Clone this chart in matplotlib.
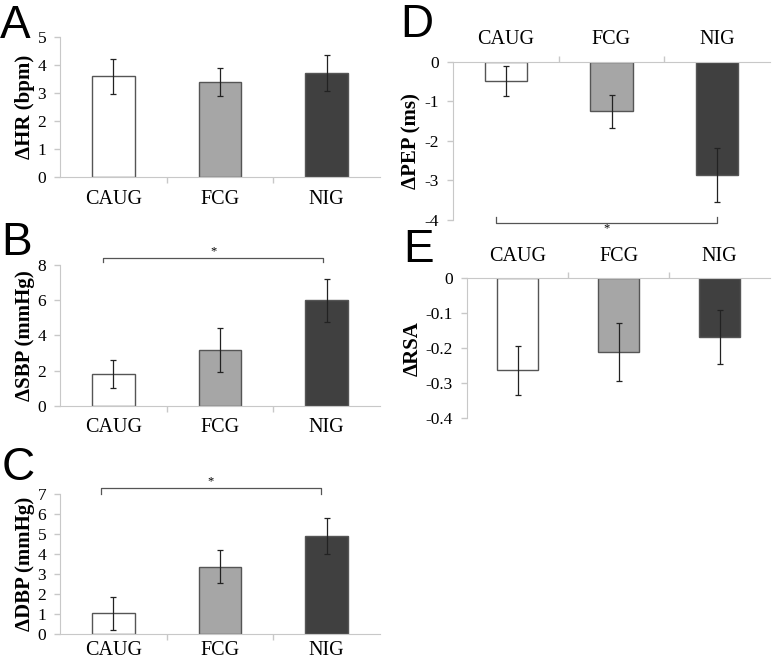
import matplotlib
matplotlib.use("Agg")
import matplotlib.pyplot as plt

plt.rcParams['font.family'] = ['Liberation Serif', 'DejaVu Serif']

groups = ["CAUG", "FCG", "NIG"]
bar_colors = ["#ffffff", "#a6a6a6", "#404040"]

hr_vals = [3.6, 3.4, 3.7]
hr_err = [0.62, 0.51, 0.64]
sbp_vals = [1.8, 3.17, 6.0]
sbp_err = [0.8, 1.23, 1.23]
dbp_vals = [1.05, 3.38, 4.93]
dbp_err = [0.83, 0.83, 0.9]
pep_vals = [-0.49, -1.25, -2.86]
pep_err = [0.37, 0.42, 0.68]
rsa_vals = [-0.263, -0.21, -0.168]
rsa_err = [0.071, 0.083, 0.078]

W, H = 776, 664
fig = plt.figure(figsize=(W / 100, H / 100), dpi=100)

def box(l, r, t, b):
    return [l / W, 1 - b / H, (r - l) / W, (b - t) / H]

spine_c = "#c8c8c8"

def panel(rect, vals, errs, ylim, yticks, yticklabels, ylabel, top=False, labelpad=2, xpad=9):
    ax = fig.add_axes(rect)
    x = list(range(len(groups)))
    ax.bar(x, vals, width=0.4, color=bar_colors, edgecolor="#555555", linewidth=1.0, zorder=2)
    ax.errorbar(x, vals, yerr=errs, fmt="none", ecolor="#222222", elinewidth=0.9,
                capsize=2, capthick=0.9, zorder=3)
    ax.set_xlim(-0.5, 2.5)
    ax.set_ylim(*ylim)
    ax.set_yticks(yticks)
    ax.set_yticklabels(yticklabels, fontsize=12.5)
    ax.spines["right"].set_visible(False)
    if top:
        ax.spines["bottom"].set_visible(False)
        ax.spines["top"].set_color(spine_c)
        ax.xaxis.tick_top()
    else:
        ax.spines["top"].set_visible(False)
        ax.spines["bottom"].set_color(spine_c)
    ax.spines["left"].set_color(spine_c)
    ax.set_xticks([0.5, 1.5], minor=False)
    ax.set_xticklabels(["", ""])
    ax.set_xticks([0, 1, 2], minor=True)
    ax.set_xticklabels(groups, minor=True, fontsize=14.5)
    ax.tick_params(axis="x", which="minor", length=0, pad=xpad)
    ax.tick_params(axis="x", which="major", length=4, color=spine_c, width=1)
    ax.tick_params(axis="y", length=4, color=spine_c, width=1, pad=6)
    ax.set_ylabel(ylabel, fontsize=15, fontweight="bold", labelpad=labelpad)
    return ax

def bracket(ax, x0, x1, y, yend, ystar):
    ax.plot([x0, x0, x1, x1], [yend, y, y, yend], color="#555555", lw=0.9, clip_on=False)
    ax.text((x0 + x1) / 2, ystar, "*", ha="center", va="center", fontsize=9)

axA = panel(box(60, 380, 37, 177), hr_vals, hr_err, (0, 5), range(0, 6),
            [str(v) for v in range(0, 6)], "ΔHR (bpm)")
axB = panel(box(60, 380, 265, 405.7), sbp_vals, sbp_err, (0, 8), range(0, 9, 2),
            [str(v) for v in range(0, 9, 2)], "ΔSBP (mmHg)")
bracket(axB, -0.1, 1.97, 8.4, 8.15, 8.75)
axC = panel(box(60, 380, 494.3, 634.3), dbp_vals, dbp_err, (0, 7), range(0, 8),
            [str(v) for v in range(0, 8)], "ΔDBP (mmHg)", xpad=5)
bracket(axC, -0.12, 1.95, 7.3, 7.0, 7.65)
axD = panel(box(453, 770, 61.7, 220), pep_vals, pep_err, (-4, 0), range(-4, 1),
            [str(v) for v in range(-4, 1)], "ΔPEP (ms)", top=True)
bracket(axD, -0.09, 2.0, -4.07, -3.92, -4.22)
axE = panel(box(467, 770, 278.3, 418.3), rsa_vals, rsa_err, (-0.4, 0),
            [-0.4, -0.3, -0.2, -0.1, 0], ["-0.4", "-0.3", "-0.2", "-0.1", "0"], "ΔRSA", top=True)

for lab, (px, py) in {"A": (0, 4), "B": (1, 221), "C": (2, 446), "D": (400, 3), "E": (403, 228)}.items():
    fig.text(px / W, 1 - py / H, lab, fontsize=33, family="Liberation Sans", ha="left", va="top")

fig.savefig("out.png", dpi=100)
